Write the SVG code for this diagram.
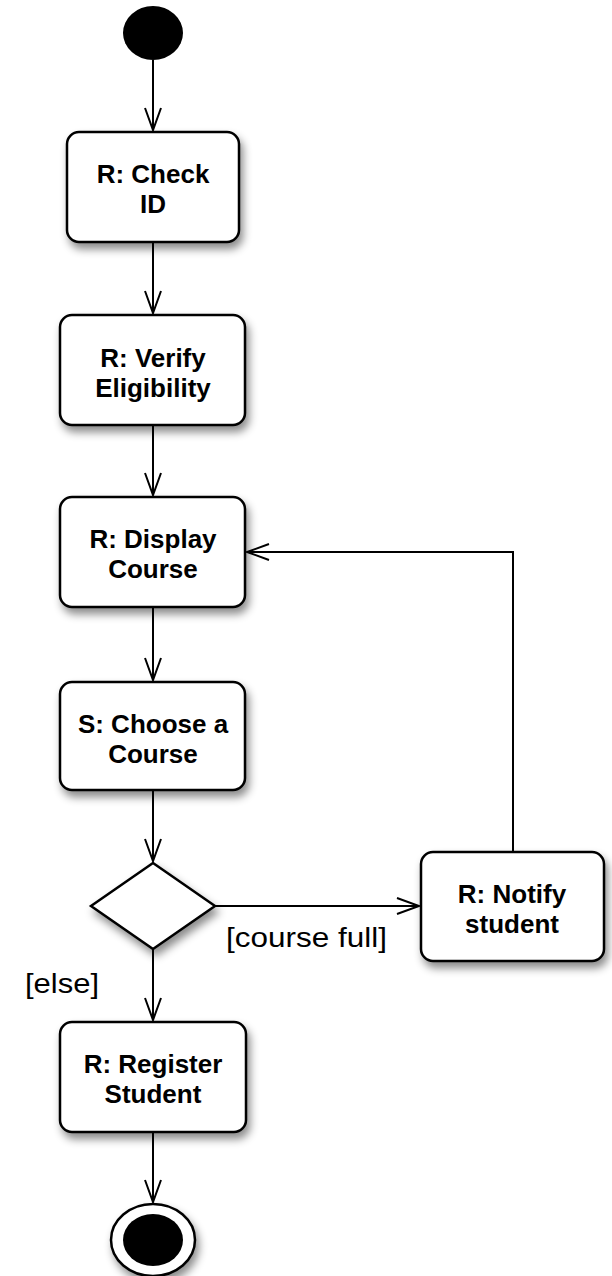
<svg xmlns="http://www.w3.org/2000/svg" width="612" height="1276" viewBox="0 0 612 1276">
<style>
.node{fill:#fff;stroke:#000;stroke-width:2.5;filter:url(#sh)}
.t{font-family:"Liberation Sans",Arial,sans-serif;font-weight:bold;font-size:26px;text-anchor:middle;fill:#000}
.lbl{font-family:"Liberation Sans",Arial,sans-serif;font-size:27px;fill:#000}
.c{fill:none;stroke:#000;stroke-width:2;marker-end:url(#ah)}
</style>
<defs>
<filter id="sh" x="-20%" y="-20%" width="150%" height="160%">
<feDropShadow dx="3" dy="6" stdDeviation="4" flood-color="#000" flood-opacity="0.45"/>
</filter>
<marker id="ah" markerUnits="userSpaceOnUse" markerWidth="30" markerHeight="24" viewBox="-24 -12 30 24" refX="0" refY="0" orient="auto">
<path d="M -22 -8 L 0 0 L -22 8" fill="none" stroke="#000" stroke-width="2"/>
</marker>
</defs>
<rect width="612" height="1276" fill="#fff"/>
<g id="connectors">
<line class="c" x1="153" y1="60" x2="153" y2="130"/>
<line class="c" x1="153" y1="242" x2="153" y2="313"/>
<line class="c" x1="153" y1="425" x2="153" y2="495"/>
<line class="c" x1="153" y1="607" x2="153" y2="680"/>
<line class="c" x1="153" y1="790" x2="153" y2="861"/>
<line class="c" x1="153" y1="949" x2="153" y2="1020"/>
<line class="c" x1="153" y1="1132" x2="153" y2="1202"/>
<line class="c" x1="215" y1="906" x2="419" y2="906"/>
<polyline class="c" points="513,852 513,552 247,552"/>
<text class="lbl" x="226" y="947" textLength="161" lengthAdjust="spacingAndGlyphs">[course full]</text>
<text class="lbl" x="25" y="993" textLength="74" lengthAdjust="spacingAndGlyphs">[else]</text>
</g>
<g id="start">
<ellipse cx="153" cy="33" rx="30" ry="27" fill="#000"/>
</g>
<g id="checkId">
<rect class="node" x="67" y="132" width="172" height="110" rx="12"/>
<text class="t" x="153" y="183">R: Check</text>
<text class="t" x="153" y="213">ID</text>
</g>
<g id="verify">
<rect class="node" x="60" y="315" width="185" height="110" rx="12"/>
<text class="t" x="153" y="367">R: Verify</text>
<text class="t" x="153" y="397">Eligibility</text>
</g>
<g id="display">
<rect class="node" x="60" y="497" width="185" height="110" rx="12"/>
<text class="t" x="153" y="548">R: Display</text>
<text class="t" x="153" y="578">Course</text>
</g>
<g id="choose">
<rect class="node" x="60" y="682" width="185" height="108" rx="12"/>
<text class="t" x="153" y="733">S: Choose a</text>
<text class="t" x="153" y="763">Course</text>
</g>
<g id="decision">
<polygon class="node" points="153,863 215,906 153,949 91,906"/>
</g>
<g id="notify">
<rect class="node" x="421" y="852" width="183" height="109" rx="12"/>
<text class="t" x="512" y="903">R: Notify</text>
<text class="t" x="512" y="933">student</text>
</g>
<g id="register">
<rect class="node" x="60" y="1022" width="186" height="110" rx="12"/>
<text class="t" x="153" y="1073">R: Register</text>
<text class="t" x="153" y="1103">Student</text>
</g>
<g id="end">
<ellipse class="node" cx="153" cy="1240" rx="42" ry="36"/>
<ellipse cx="153" cy="1240" rx="30" ry="26" fill="#000"/>
</g>
</svg>
